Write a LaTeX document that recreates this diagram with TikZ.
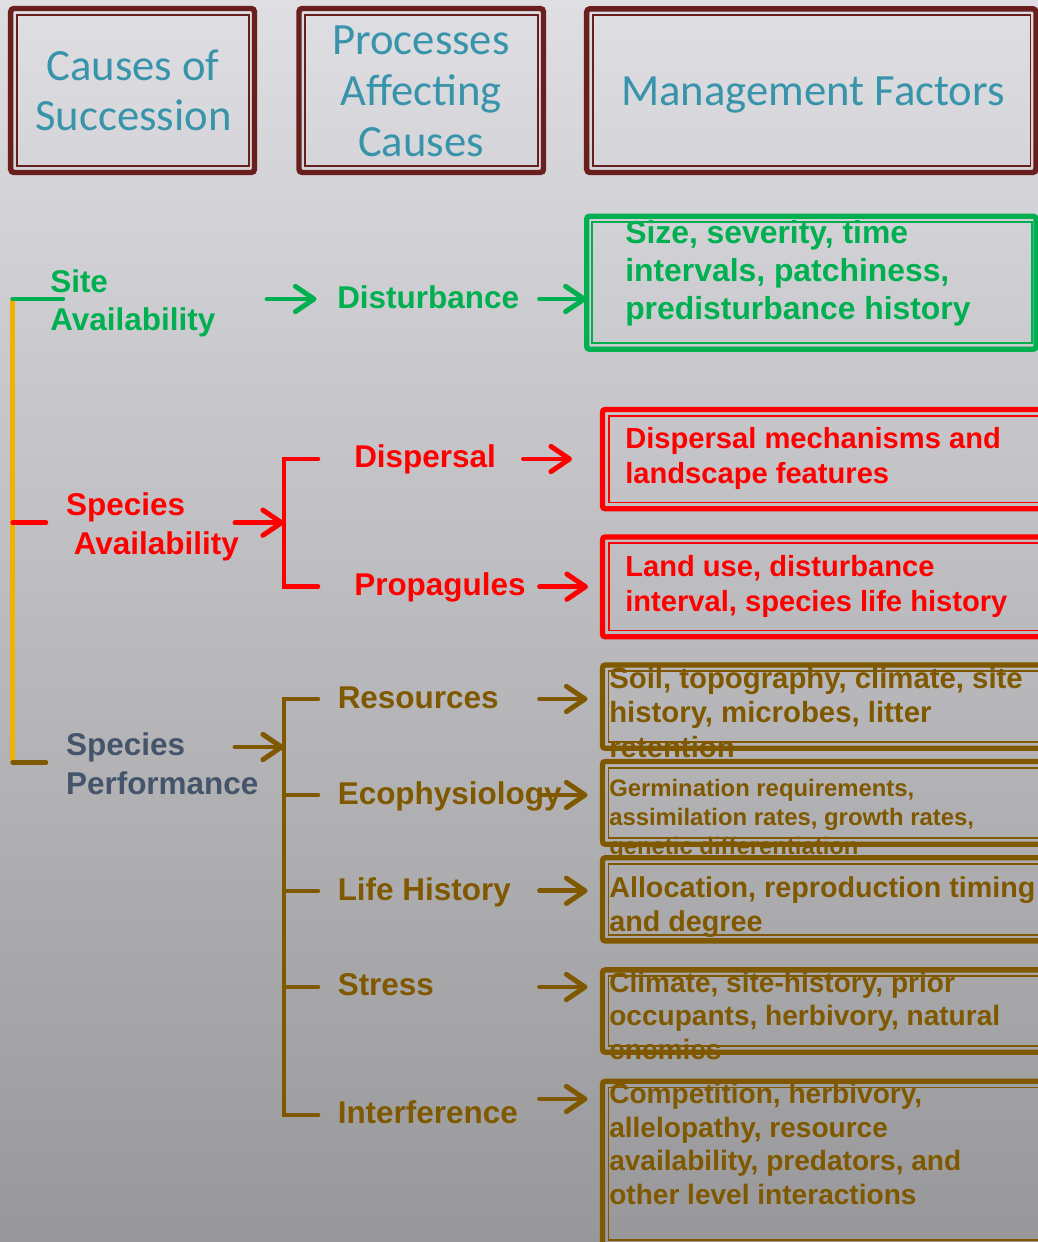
\documentclass[tikz,border=0pt]{standalone}
\usepackage{fontspec}
\setmainfont{Liberation Sans}
\newfontfamily\headfont{Carlito}
\usetikzlibrary{arrows.meta,fit}
\newcommand\myfs[2]{\fontsize{#1}{#2}\selectfont}
\definecolor{bgtop}{RGB}{222,222,227}
\definecolor{bgmid}{RGB}{188,188,193}
\definecolor{bgbot}{RGB}{152,152,154}
\definecolor{hdrmaroon}{RGB}{106,30,30}
\definecolor{hdrteal}{RGB}{56,148,170}
\definecolor{sgreen}{RGB}{0,176,80}
\definecolor{sred}{RGB}{255,0,0}
\definecolor{sbrown}{RGB}{127,88,0}
\definecolor{syellow}{RGB}{242,176,0}
\definecolor{sslate}{RGB}{68,84,106}
\tikzset{
 hdr/.style={anchor=base, inner sep=0pt, text=hdrteal, font=\headfont\myfs{33.5}{40}},
 lbl/.style={anchor=base west, inner sep=0pt, font=\myfs{23.6}{28}\bfseries},
 btxt/.style={anchor=base west, inner sep=0pt, font=\myfs{#1}{#1}\bfseries},
 hbox/.style={draw=hdrmaroon, line width=4.1pt, rounded corners=2.5pt, inner sep=0pt, outer sep=0pt},
 hin/.style={draw=hdrmaroon, line width=1.4pt},
 obox/.style={draw=#1, line width=4pt, rounded corners=2pt, inner sep=0pt, outer sep=0pt},
 ibox/.style={draw=#1, line width=1.4pt},
 conn/.style={line width=3.4pt, line cap=round, line join=miter},
 arr/.style={line width=3.7pt, line cap=round, -{Straight Barb[length=14pt,width=19pt,round]}},
}
\begin{document}
\begin{tikzpicture}[x=0.75pt,y=-0.75pt]
\useasboundingbox (0,0) rectangle (1038,1242);
\shade[top color=bgtop, middle color=bgmid, bottom color=bgbot] (0,0) rectangle (1038,1242);
\clip (0,0) rectangle (1038,1242);

% ---------- header boxes ----------
\node[hbox, fit={(10.7,8.5) (254.5,172.5)}] (hb1) {};
\node[hbox, fit={(299,8.5) (543.5,172.5)}] (hb2) {};
\node[hbox, fit={(586.7,8.8) (1036,172.5)}] (hb3) {};
\foreach \b in {hb1,hb2,hb3}
  \draw[hin] ([shift={(6.3,6.3)}]\b.north west) rectangle ([shift={(-5.5,-6.5)}]\b.south east);
\node[hdr] (h1a) at (133,80) {Causes of};
\node[hdr] (h1b) at (133.5,130) {Succession};
\node[hdr] (h2a) at (421,54) {Processes};
\node[hdr] (h2b) at (421,105) {Affecting};
\node[hdr] (h2c) at (421,156) {Causes};
\node[hdr] (h3) at (813,105) {Management Factors};

% ---------- management factor boxes ----------
\node[obox=sgreen, fit={(586.7,216.3) (1036,349.2)}] (gb) {};
\draw[ibox=sgreen] ([shift={(5.6,5.6)}]gb.north west) rectangle ([shift={(-4.2,-6.4)}]gb.south east);
\node[obox=sred, fit={(602.5,409.5) (1050,508.8)}] (rb1) {};
\node[obox=sred, fit={(602.5,537) (1050,636.8)}] (rb2) {};
\node[obox=sbrown, fit={(602.5,665) (1050,748.3)}] (bb1) {};
\node[obox=sbrown, fit={(602.5,761.5) (1050,844.2)}] (bb2) {};
\node[obox=sbrown, fit={(602.5,857.8) (1050,940.9)}] (bb3) {};
\node[obox=sbrown, fit={(602.5,969.9) (1050,1052.2)}] (bb4) {};
\node[obox=sbrown, fit={(602.5,1081.3) (1050,1246)}] (bb5) {};
\foreach \b in {rb1,rb2}
  \draw[ibox=sred] ([shift={(6.3,6.3)}]\b.north west) rectangle ([shift={(-5,-6.3)}]\b.south east);
\foreach \b in {bb1,bb2,bb3,bb4,bb5}
  \draw[ibox=sbrown] ([shift={(6,6.2)}]\b.north west) rectangle ([shift={(-5,-6)}]\b.south east);

% ---------- trunk ----------
\coordinate (ytop) at (12.6,299);
\coordinate (ybot) at (12.6,761);
\draw[line width=3.45pt, syellow] (ytop) -- (ybot);
\coordinate (gl) at (63,299);
\coordinate (rl0) at (12.6,522.7);
\coordinate (rl) at (46,522.7);
\coordinate (bl0) at (12.6,762.5);
\coordinate (bl) at (46,762.5);
\draw[conn, sgreen] (ytop) -- (gl);
\draw[conn, sred] (rl0) -- (rl);
\draw[conn, sbrown] (bl0) -- (bl);

% ---------- site availability ----------
\node[lbl, text=sgreen] (site1) at (50,292) {Site};
\node[lbl, text=sgreen] (site2) at (50,330) {Availability};
\node[lbl, text=sgreen] (dist) at (337,308) {Disturbance};
\coordinate (ga1s) at (267,299);
\coordinate (ga1e) at (316.5,299);
\coordinate (ga2s) at (539.6,299);
\draw[arr, sgreen] (ga1s) -- (ga1e);
\draw[arr, sgreen] (ga2s) -- (ga2s -| gb.west);
\node[btxt=23.9, text=sgreen] (g1) at (625,243.3) {Size, severity, time};
\node[btxt=23.9, text=sgreen] (g2) at (625,281.7) {intervals, patchiness,};
\node[btxt=23.9, text=sgreen] (g3) at (625,319.3) {predisturbance history};

% ---------- species availability ----------
\node[lbl, text=sred] (sa1) at (65.8,515) {Species};
\node[lbl, text=sred] (sa2) at (73.5,554) {Availability};
\coordinate (ras) at (235,522.7);
\coordinate (rbm) at (284,522.7);
\coordinate (rbt) at (284,459);
\coordinate (rbb) at (284,586.7);
\coordinate (rt1) at (318,459);
\coordinate (rt2) at (318,586.7);
\draw[conn, sred] (rt1) -- (rbt) -- (rbb) -- (rt2);
\draw[arr, sred] (ras) -- (rbm);
\node[lbl, text=sred] (disp) at (354,467.7) {Dispersal};
\node[lbl, text=sred] (prop) at (354,595.7) {Propagules};
\coordinate (ra1s) at (523.5,459);
\coordinate (ra1e) at (572,459);
\coordinate (ra2s) at (539.6,586.7);
\coordinate (ra2e) at (588,586.7);
\draw[arr, sred] (ra1s) -- (ra1e);
\draw[arr, sred] (ra2s) -- (ra2e);
\node[btxt=21.85, text=sred] (r1) at (625,448.3) {Dispersal mechanisms and};
\node[btxt=21.85, text=sred] (r2) at (625,483.3) {landscape features};
\node[btxt=21.85, text=sred] (r3) at (625,576.7) {Land use, disturbance};
\node[btxt=21.85, text=sred] (r4) at (625,611.7) {interval, species life history};

% ---------- species performance ----------
\node[lbl, text=sslate] (sp1) at (65.8,755.7) {Species};
\node[lbl, text=sslate] (sp2) at (65.8,794) {Performance};
\coordinate (bas) at (235,747);
\coordinate (bbm) at (284,747);
\coordinate (bbt) at (284,699);
\coordinate (bbb) at (284,1115);
\coordinate (bt1) at (318,699);
\coordinate (bt5) at (318,1115);
\draw[conn, sbrown] (bt1) -- (bbt) -- (bbb) -- (bt5);
\foreach \yy/\nm in {795/bt2,890.8/bt3,987/bt4}{
  \coordinate (\nm) at (318,\yy);
  \draw[conn, sbrown] (\nm -| bbt) -- (\nm);
}
\draw[arr, sbrown] (bas) -- (bbm);
\node[lbl, text=sbrown] (res) at (337.5,708.5) {Resources};
\node[lbl, text=sbrown] (eco) at (337.5,804) {Ecophysiology};
\node[lbl, text=sbrown] (lif) at (337.5,900) {Life History};
\node[lbl, text=sbrown] (str) at (337.5,995.4) {Stress};
\node[lbl, text=sbrown] (int) at (337.5,1123.8) {Interference};
\foreach \yy/\nm in {699/ba1,795/ba2,890.8/ba3,987/ba4,1099/ba5}{
  \coordinate (\nm s) at (539.6,\yy);
  \coordinate (\nm e) at (587.5,\yy);
  \draw[arr, sbrown] (\nm s) -- (\nm e);
}
\node[btxt=22, text=sbrown] (b1a) at (609,688.3) {Soil, topography, climate, site};
\node[btxt=22, text=sbrown] (b1b) at (609,722.8) {history, microbes, litter};
\node[btxt=22, text=sbrown] (b1c) at (609,757.3) {retention};
\node[btxt=17.9, text=sbrown] (b2a) at (609,796) {Germination requirements,};
\node[btxt=17.9, text=sbrown] (b2b) at (609,825.3) {assimilation rates, growth rates,};
\node[btxt=17.9, text=sbrown] (b2c) at (609,854.6) {genetic differentiation};
\node[btxt=21.55, text=sbrown] (b3a) at (609,897.3) {Allocation, reproduction timing};
\node[btxt=21.55, text=sbrown] (b3b) at (609,931.2) {and degree};
\node[btxt=21.05, text=sbrown] (b4a) at (609,992) {Climate, site-history, prior};
\node[btxt=21.05, text=sbrown] (b4b) at (609,1025.6) {occupants, herbivory, natural};
\node[btxt=21.05, text=sbrown] (b4c) at (609,1059.4) {enemies};
\node[btxt=21.05, text=sbrown] (b5a) at (609,1103) {Competition, herbivory,};
\node[btxt=21.05, text=sbrown] (b5b) at (609,1137) {allelopathy, resource};
\node[btxt=21.05, text=sbrown] (b5c) at (609,1170.5) {availability, predators, and};
\node[btxt=21.05, text=sbrown] (b5d) at (609,1204) {other level interactions};
\end{tikzpicture}
\end{document}
